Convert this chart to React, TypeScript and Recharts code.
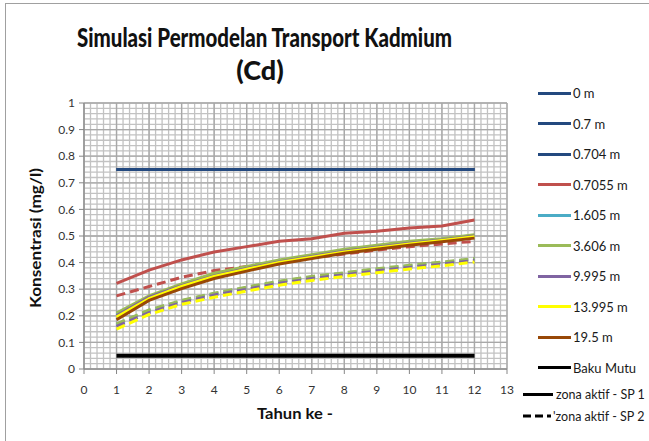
import { CartesianGrid, Line, LineChart, XAxis, YAxis } from "recharts";

const years = [1, 2, 3, 4, 5, 6, 7, 8, 9, 10, 11, 12];
const xTicks = [0, 1, 2, 3, 4, 5, 6, 7, 8, 9, 10, 11, 12, 13];
const yTicks = [0, 0.1, 0.2, 0.3, 0.4, 0.5, 0.6, 0.7, 0.8, 0.9, 1];

// grid only: 5 minor steps per major step
const minorX = Array.from({ length: 66 }, (_, i) => Math.round(i * 0.2 * 100) / 100);
const minorY = Array.from({ length: 51 }, (_, i) => Math.round(i * 0.02 * 1000) / 1000);

const depth0 = [0.75, 0.75, 0.75, 0.75, 0.75, 0.75, 0.75, 0.75, 0.75, 0.75, 0.75, 0.75];
const depth07 = [0.75, 0.75, 0.75, 0.75, 0.75, 0.75, 0.75, 0.75, 0.75, 0.75, 0.75, 0.75];
const depth0704 = [0.75, 0.75, 0.75, 0.75, 0.75, 0.75, 0.75, 0.75, 0.75, 0.75, 0.75, 0.75];
const red1 = [0.322, 0.372, 0.41, 0.44, 0.46, 0.48, 0.49, 0.51, 0.518, 0.53, 0.538, 0.56];
const red2 = [0.275, 0.31, 0.345, 0.37, 0.385, 0.402, 0.418, 0.432, 0.447, 0.46, 0.47, 0.48];
const cyan1 = [0.205, 0.27, 0.315, 0.355, 0.38, 0.405, 0.425, 0.445, 0.46, 0.475, 0.487, 0.5];
const cyan2 = [0.168, 0.22, 0.256, 0.283, 0.306, 0.328, 0.346, 0.36, 0.375, 0.388, 0.4, 0.413];
const green1 = [0.21, 0.275, 0.32, 0.36, 0.385, 0.41, 0.43, 0.45, 0.465, 0.48, 0.49, 0.505];
const green2 = [0.17, 0.222, 0.258, 0.285, 0.308, 0.33, 0.348, 0.362, 0.377, 0.39, 0.402, 0.415];
const purple1 = [0.2, 0.27, 0.313, 0.35, 0.378, 0.402, 0.423, 0.443, 0.458, 0.473, 0.485, 0.5];
const purple2 = [0.16, 0.212, 0.25, 0.278, 0.3, 0.322, 0.34, 0.354, 0.369, 0.382, 0.394, 0.408];
const yellow1 = [0.195, 0.265, 0.31, 0.348, 0.375, 0.4, 0.42, 0.44, 0.455, 0.47, 0.483, 0.497];
const yellow2 = [0.15, 0.205, 0.243, 0.27, 0.293, 0.315, 0.333, 0.348, 0.362, 0.376, 0.388, 0.402];
const brown1 = [0.185, 0.258, 0.302, 0.34, 0.368, 0.395, 0.415, 0.435, 0.45, 0.465, 0.478, 0.492];
const bakuMutu = [0.05, 0.05, 0.05, 0.05, 0.05, 0.05, 0.05, 0.05, 0.05, 0.05, 0.05, 0.05];

const legendNames = ["0 m", "0.7 m", "0.704 m", "0.7055 m", "1.605 m", "3.606 m", "9.995 m", "13.995 m", "19.5 m", "Baku Mutu"];
const legendColors = ["#23497F", "#23497F", "#23497F", "#C0504D", "#4BACC6", "#9BBB59", "#8064A2", "#FFFF00", "#984807", "#000000"];

const data = years.map((year, i) => ({
  year,
  depth0: depth0[i],
  depth07: depth07[i],
  depth0704: depth0704[i],
  red1: red1[i],
  red2: red2[i],
  cyan1: cyan1[i],
  cyan2: cyan2[i],
  green1: green1[i],
  green2: green2[i],
  purple1: purple1[i],
  purple2: purple2[i],
  yellow1: yellow1[i],
  yellow2: yellow2[i],
  brown1: brown1[i],
  bakuMutu: bakuMutu[i],
}));

const series = [
  { key: "depth0", color: "#23497F", dash: undefined },
  { key: "depth07", color: "#23497F", dash: undefined },
  { key: "depth0704", color: "#23497F", dash: undefined },
  { key: "red2", color: "#C0504D", dash: "9 5" },
  { key: "cyan2", color: "#4BACC6", dash: "9 5" },
  { key: "green2", color: "#9BBB59", dash: "9 5" },
  { key: "purple2", color: "#8064A2", dash: "9 5" },
  { key: "yellow2", color: "#FFFF00", dash: "9 5" },
  { key: "red1", color: "#C0504D", dash: undefined },
  { key: "cyan1", color: "#4BACC6", dash: undefined },
  { key: "green1", color: "#9BBB59", dash: undefined },
  { key: "purple1", color: "#8064A2", dash: undefined },
  { key: "yellow1", color: "#FFFF00", dash: undefined },
  { key: "brown1", color: "#984807", dash: undefined },
  { key: "bakuMutu", color: "#000000", dash: undefined },
];

const font = "Lato, 'Open Sans', sans-serif";
const tickStyle = { fontSize: 12, fill: "#333", fontFamily: font };

function LegendBox() {
  return (
    <div style={{ position: "absolute", top: 78, left: 520, width: 129, fontFamily: font, fontSize: 13, color: "#1a1a1a" }}>
      {legendNames.map((name, i) => (
        <div key={name} style={{ height: 30.5, display: "flex", alignItems: "center" }}>
          <div style={{ marginLeft: 18, width: 33, height: 3, background: legendColors[i] }} />
          <span style={{ marginLeft: 2 }}>{name}</span>
        </div>
      ))}
      <div style={{ height: 22, display: "flex", alignItems: "center" }}>
        <div style={{ marginLeft: 3, width: 30, height: 3, background: "#000" }} />
        <span style={{ marginLeft: 3, fontSize: 12.5 }}>zona aktif - SP 1</span>
      </div>
      <div style={{ height: 22, display: "flex", alignItems: "center" }}>
        <svg width={28} height={4} style={{ marginLeft: 3 }}>
          <line x1={0} y1={2} x2={28} y2={2} stroke="#000" strokeWidth={3} strokeDasharray="8 4" />
        </svg>
        <span style={{ marginLeft: 2, fontSize: 12.5 }}>'zona aktif - SP 2</span>
      </div>
    </div>
  );
}

export default function App() {
  return (
    <div style={{ position: "absolute", left: 0, top: 0, width: 649, height: 441, background: "#fff", overflow: "hidden" }}>
      <div style={{ position: "absolute", left: 5, top: 3, width: 700, height: 500, border: "1px solid #A0A0A0" }} />
      <div style={{ position: "absolute", left: 0, top: 0 }}>
        <LineChart width={649} height={441} data={data} margin={{ top: 103, right: 142, bottom: 42, left: 44 }}>
          <CartesianGrid stroke="#C2C2C2" strokeWidth={1.3} verticalValues={minorX} horizontalValues={minorY} />
          <CartesianGrid stroke="#A8A8A8" strokeWidth={1.3} />
          <XAxis
            type="number"
            dataKey="year"
            domain={[0, 13]}
            ticks={xTicks}
            interval={0}
            height={30}
            tick={tickStyle}
            tickSize={5}
            tickMargin={11}
            stroke="#868686"
          />
          <YAxis
            type="number"
            domain={[0, 1]}
            ticks={yTicks}
            interval={0}
            width={40}
            tick={tickStyle}
            tickSize={5}
            tickMargin={4}
            stroke="#868686"
            tickFormatter={(v: number) => String(v)}
          />
          {series.map((s) => (
            <Line
              key={s.key}
              type="linear"
              dataKey={s.key}
              stroke={s.color}
              strokeWidth={s.key === "bakuMutu" ? 4 : 3}
              strokeDasharray={s.dash}
              dot={false}
              activeDot={false}
              isAnimationActive={false}
            />
          ))}
        </LineChart>
      </div>
      <LegendBox />
      <svg width={649} height={441} style={{ position: "absolute", left: 0, top: 0, pointerEvents: "none" }}>
        <text x={77} y={47} fontFamily={font} fontWeight={900} fontSize={27} fill="#111" textLength={375} lengthAdjust="spacingAndGlyphs">
          Simulasi Permodelan Transport Kadmium
        </text>
        <text x={260} y={80} textAnchor="middle" fontFamily={font} fontWeight={900} fontSize={27} fill="#111">
          (Cd)
        </text>
        <text
          x={0}
          y={0}
          transform="translate(41 238) rotate(-90)"
          textAnchor="middle"
          fontFamily={font}
          fontWeight={700}
          fontSize={15}
          fill="#111"
          textLength={140}
          lengthAdjust="spacingAndGlyphs"
        >
          Konsentrasi (mg/l)
        </text>
        <text x={295} y={419} textAnchor="middle" fontFamily={font} fontWeight={700} fontSize={15} fill="#111" textLength={76} lengthAdjust="spacingAndGlyphs">
          Tahun ke -
        </text>
      </svg>
    </div>
  );
}
